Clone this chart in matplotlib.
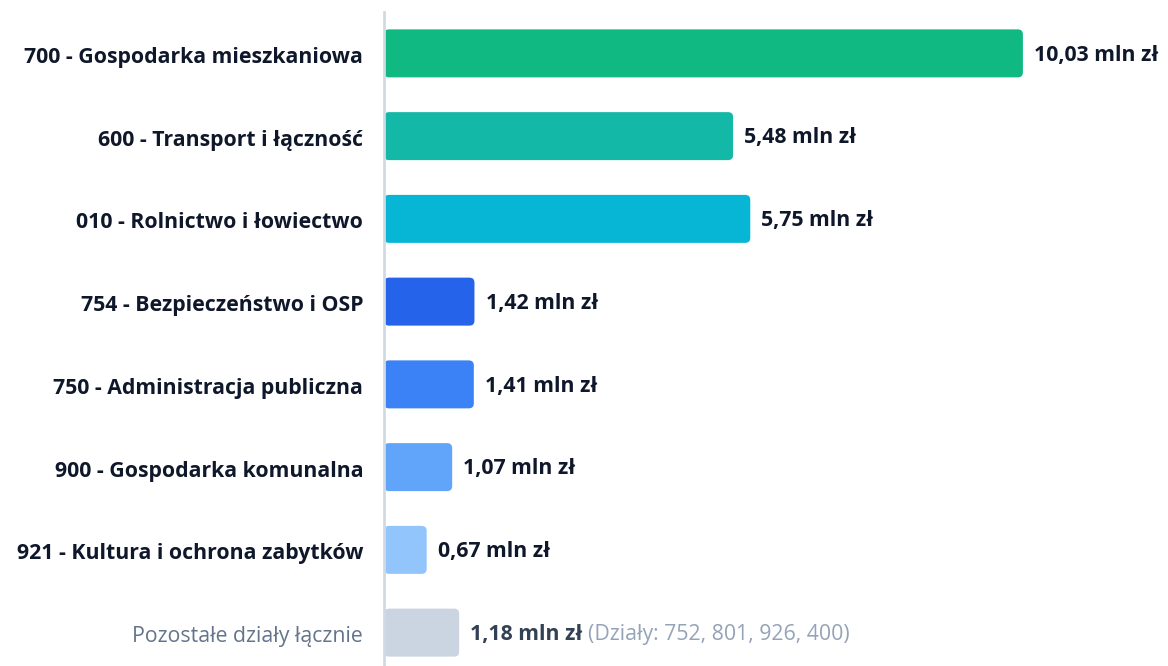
import matplotlib.pyplot as plt
import matplotlib.transforms as mtransforms
from matplotlib.patches import FancyBboxPatch

# data
categories = ["700 - Gospodarka mieszkaniowa", "600 - Transport i łączność",
              "010 - Rolnictwo i łowiectwo", "754 - Bezpieczeństwo i OSP",
              "750 - Administracja publiczna", "900 - Gospodarka komunalna",
              "921 - Kultura i ochrona zabytków", "Pozostałe działy łącznie"]
values = [10.03, 5.48, 5.75, 1.42, 1.41, 1.07, 0.67, 1.18]
value_labels = ["10,03 mln zł", "5,48 mln zł", "5,75 mln zł", "1,42 mln zł",
                "1,41 mln zł", "1,07 mln zł", "0,67 mln zł", "1,18 mln zł"]
rest_note = "(Działy: 752, 801, 926, 400)"
colors = ["#10b981", "#14b8a6", "#06b6d4", "#2563eb", "#3b82f6", "#60a5fa",
          "#93c5fd", "#cbd5e1"]

plt.rcParams['font.family'] = ['Open Sans', 'DejaVu Sans']
dark = "#0f172a"
fs = 15.3

fig = plt.figure(figsize=(11.68, 6.66), dpi=100)
ax = fig.add_axes([384 / 1168, -8 / 666, 784 / 1168, 662 / 666])

ypos = list(range(len(categories)))
bars = ax.barh(ypos, values, height=0.58, color=colors)

ax.set_xlim(0, 784 / 63.7)
ax.set_ylim(len(categories) - 0.5, -0.5)

# swap plain bars for rounded ones
for b in bars:
    x0, y0 = b.get_x(), b.get_y()
    w, h = b.get_width(), b.get_height()
    p = FancyBboxPatch((x0, y0), w, h, boxstyle="round,pad=0,rounding_size=0.08",
                       mutation_aspect=0.75, facecolor=b.get_facecolor(),
                       edgecolor="none", zorder=2)
    b.set_visible(False)
    ax.add_patch(p)

for spine in ["top", "right", "bottom"]:
    ax.spines[spine].set_visible(False)
ax.spines["left"].set_color("#d1d9e3")
ax.spines["left"].set_linewidth(2)
ax.spines["left"].set_zorder(3)
ax.set_xticks([])
ax.set_yticks(ypos)
ax.set_yticklabels(categories)
ax.tick_params(axis="y", length=0, pad=15)
shift = mtransforms.ScaledTranslation(0, -1.5 / 100, fig.dpi_scale_trans)
for i, lab in enumerate(ax.get_yticklabels()):
    lab.set_fontsize(fs)
    lab.set_transform(lab.get_transform() + shift)
    if i == len(categories) - 1:
        lab.set_color("#64748b")
    else:
        lab.set_fontweight("bold")
        lab.set_color(dark)

for i, (v, t) in enumerate(zip(values, value_labels)):
    txt = ax.annotate(t, xy=(v, i), xytext=(8, -1.2), textcoords="offset points",
                      va="center", ha="left", fontsize=fs, fontweight="bold",
                      color=dark if i < len(values) - 1 else "#334155")
    if i == len(values) - 1:
        ax.annotate(rest_note, xy=(1, 0.5), xycoords=txt, xytext=(4, 0),
                    textcoords="offset points", va="center", ha="left",
                    fontsize=fs, color="#94a3b8")

fig.savefig("out.png", dpi=100)
